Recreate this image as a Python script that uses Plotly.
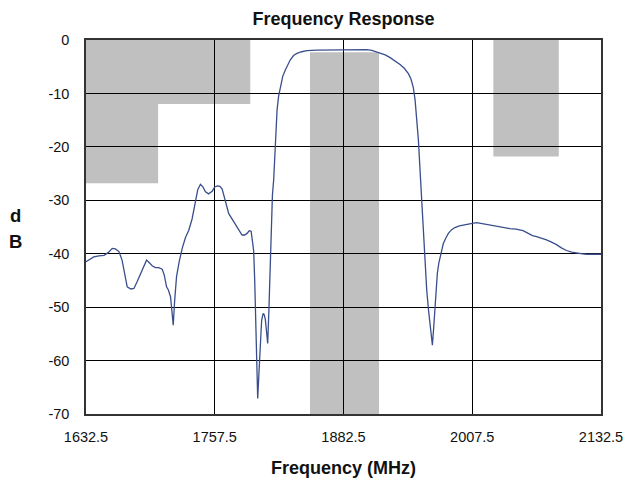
import plotly.graph_objects as go

# ---- data ----
freq_mhz = [1632.5, 1634, 1640, 1645, 1650, 1654, 1658, 1661, 1664.5, 1667.5, 1670, 1672.5, 1676, 1679,
            1682, 1685.5, 1688.5, 1691.3, 1694, 1697, 1700, 1703, 1706.5, 1708.5, 1710.7, 1712.5, 1714.6,
            1716, 1717.2, 1718.5, 1720.4, 1723, 1725.9, 1729, 1732.3, 1735.5, 1738.8, 1741, 1743.6, 1746,
            1748.5, 1751.5, 1755, 1757.5, 1760, 1762.5, 1764.7, 1767, 1769, 1771.1, 1775.9, 1780, 1784,
            1786.5, 1788.9, 1791, 1792.8, 1794, 1795.3, 1796.3, 1797, 1798, 1799.2, 1800.5, 1801.8, 1803,
            1804.4, 1805.5, 1806.6, 1807.8, 1808.9, 1810, 1810.8, 1811.6, 1812.4, 1813.5, 1814.7, 1816,
            1818, 1819.5, 1821.2, 1823.5, 1826, 1828.5, 1830.9, 1834, 1837.3, 1842, 1847, 1856.7, 1870,
            1882.5, 1895.5, 1900, 1905.2, 1910, 1914, 1918, 1923, 1927.8, 1932, 1937.4, 1941.5, 1945.5,
            1948, 1950.3, 1952, 1953.7, 1955.2, 1957, 1958.5, 1959.5, 1960.7, 1962, 1963.3, 1965, 1966.5,
            1968, 1968.8, 1970, 1971.4, 1972.5, 1973.6, 1975, 1976.2, 1978, 1979.4, 1982, 1984.3, 1987.5,
            1990.7, 1995, 1998.8, 2005, 2011.8, 2020, 2027.8, 2036, 2044, 2050, 2056.9, 2060, 2063.4,
            2066, 2069.9, 2075, 2079.6, 2084, 2089.3, 2094, 2099, 2104, 2108.7, 2113, 2118.4, 2125, 2132.5]

response_db = [-41.5, -41.3, -40.6, -40.4, -40.3, -39.8, -39.0, -39.1, -39.6, -41.2, -43.5, -46.2, -46.6, -46.5,
               -45.3, -43.7, -42.3, -41.2, -41.7, -42.3, -42.6, -42.6, -42.9, -44.0, -46.2, -46.8, -48.1,
               -50.5, -53.4, -49.0, -44.3, -41.5, -39.0, -37.0, -35.6, -33.5, -30.0, -28.0, -27.0, -27.5,
               -28.4, -28.8, -28.3, -27.5, -27.3, -27.4, -27.9, -29.5, -31.2, -32.5, -34.0, -35.2, -36.5,
               -36.5, -36.2, -35.7, -35.8, -37.5, -39.5, -45.0, -50.0, -57.0, -67.1, -62.0, -56.2, -52.5,
               -51.2, -51.4, -52.3, -55.0, -56.8, -51.0, -44.9, -38.0, -32.5, -29.0, -26.2, -21.0,
               -13.1, -10.5, -8.7, -6.8, -5.6, -4.5, -3.7, -2.9, -2.5, -2.2, -2.0, -1.9, -1.9,
               -1.9, -1.9, -1.85, -1.8, -1.95, -2.2, -2.5, -2.8, -3.3, -3.8, -4.6, -5.3, -6.3,
               -7.3, -8.9, -11.2, -14.5, -18.7, -25.0, -30.0, -34.0, -38.7, -43.0, -46.8, -50.5, -53.1,
               -55.8, -57.1, -54.0, -49.9, -46.5, -43.7, -41.8, -40.6, -39.2, -38.1, -37.0, -36.2, -35.5,
               -35.1, -34.8, -34.6, -34.4, -34.2, -34.5, -34.8, -35.1, -35.3, -35.4, -35.7, -36.0, -36.4,
               -36.6, -36.8, -37.1, -37.4, -37.8, -38.3, -38.9, -39.4, -39.7, -39.9, -40.0, -40.1, -40.1, -40.1]

# specification mask regions (gray)
mask_x0 = [1632.5, 1632.5, 1850.0, 2028.0]
mask_x1 = [1702.5, 1792.0, 1917.0, 2091.5]
mask_top = [0.0, 0.0, -2.3, 0.0]
mask_bottom = [-26.8, -12.0, -70.0, -21.8]

x_ticks = [1632.5, 1757.5, 1882.5, 2007.5, 2132.5]
x_tick_labels = ["1632.5", "1757.5", "1882.5", "2007.5", "2132.5"]
y_ticks = [0, -10, -20, -30, -40, -50, -60, -70]
y_tick_labels = ["0", "-10", "-20", "-30", "-40", "-50", "-60", "-70"]

FONT = "Liberation Sans, Arial, sans-serif"
TXT = "#111111"

W, H = 626, 485
L, R, T, B = 86, 25, 40, 71
PW, PH = W - L - R, H - T - B

fig = go.Figure()
fig.add_trace(go.Scatter(x=freq_mhz, y=response_db, mode="lines",
                         line=dict(color="#3A4E8C", width=1.3), hoverinfo="skip",
                         showlegend=False))

for x0, x1, y0, y1 in zip(mask_x0, mask_x1, mask_top, mask_bottom):
    fig.add_shape(type="rect", xref="x", yref="y", x0=x0, x1=x1, y0=y0, y1=y1,
                  fillcolor="#C0C0C0", line=dict(width=0), layer="below")

fig.update_layout(
    width=W, height=H,
    margin=dict(l=L, r=R, t=T, b=B),
    paper_bgcolor="white", plot_bgcolor="white",
    showlegend=False,
    font=dict(family=FONT, size=14.5, color=TXT),
    title=dict(text="<b>Frequency Response</b>", x=(L + PW / 2) / W, xanchor="center",
               y=1 - 19 / H, yanchor="middle", yref="container",
               font=dict(family=FONT, size=18, color=TXT)),
)

fig.update_xaxes(range=[1632.5, 2132.5], tickvals=x_ticks, ticktext=x_tick_labels,
                 showgrid=True, gridcolor="black", gridwidth=1,
                 showline=True, linecolor="#333333", linewidth=1.5, mirror=True,
                 ticks="outside", ticklen=9, tickcolor="rgba(0,0,0,0)", automargin=False,
                 zeroline=False, tickfont=dict(family=FONT, size=14.5, color=TXT))
fig.update_yaxes(range=[-70, 0], tickvals=y_ticks, ticktext=y_tick_labels,
                 showgrid=True, gridcolor="black", gridwidth=1,
                 showline=True, linecolor="#333333", linewidth=1.5, mirror=True,
                 ticks="outside", ticklen=12, tickcolor="rgba(0,0,0,0)", automargin=False,
                 zeroline=False, tickfont=dict(family=FONT, size=14.5, color=TXT))

fig.add_annotation(text="<b>Frequency (MHz)</b>", xref="paper", yref="paper",
                   x=0.5, y=-(468 - 414) / PH, xanchor="center", yanchor="middle",
                   showarrow=False, font=dict(family=FONT, size=18, color=TXT))
fig.add_annotation(text="<b>d</b>", xref="paper", yref="paper",
                   x=(15 - L) / PW, y=(414 - 215) / PH, xanchor="center", yanchor="middle",
                   showarrow=False, font=dict(family=FONT, size=18.5, color=TXT))
fig.add_annotation(text="<b>B</b>", xref="paper", yref="paper",
                   x=(15 - L) / PW, y=(414 - 242) / PH, xanchor="center", yanchor="middle",
                   showarrow=False, font=dict(family=FONT, size=18.5, color=TXT))

# remove the browser's default page margin so the figure fills the window exactly
fig.write_html("out.html", config={"displayModeBar": False},
               post_script="document.body.style.margin='0';document.body.style.overflow='hidden';")
